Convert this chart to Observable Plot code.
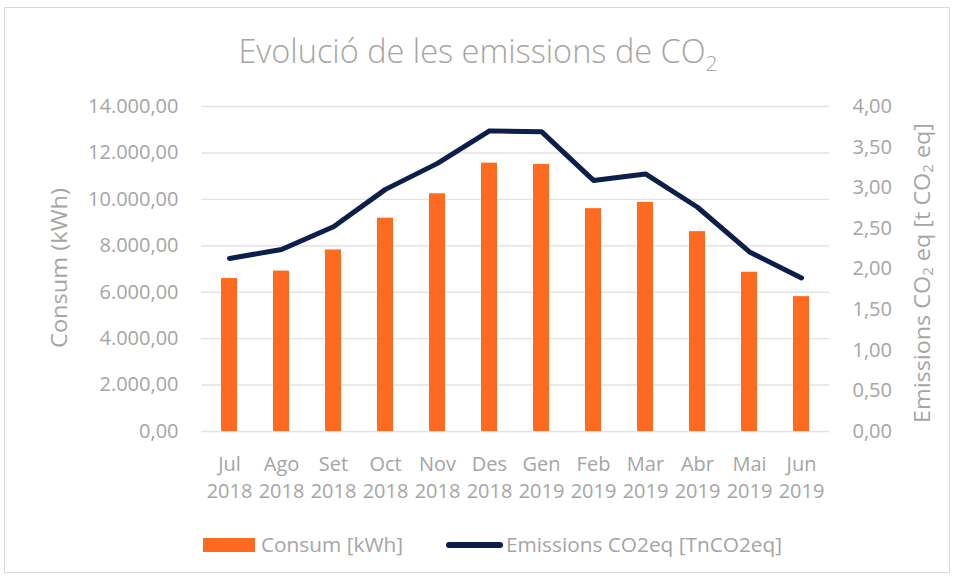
<!DOCTYPE html>
<html>
<head>
<meta charset="utf-8">
<script src="https://cdn.jsdelivr.net/npm/d3@7"></script>
<script src="https://cdn.jsdelivr.net/npm/@observablehq/plot@0.6"></script>
<style>
  html, body { margin: 0; padding: 0; background: #fff; }
  #wrap { position: relative; width: 956px; height: 579px; overflow: hidden; font-family: "Open Sans", sans-serif; color: #a5a5a5; }
  #frame { position: absolute; left: 4px; top: 7px; width: 946px; height: 566px; border: 1px solid #d9d9d9; box-sizing: border-box; }
  #title { position: absolute; left: 0; width: 956px; top: 35px; text-align: center; font-size: 32.5px; line-height: 1; font-weight: 300; color: #a5a5a5; white-space: nowrap; }
  #title sub { font-size: 21px; vertical-align: -8px; line-height: 0; }
  #chart { position: absolute; left: 0; top: 0; }
  .leg { position: absolute; font-size: 20.8px; color: #a5a5a5; white-space: nowrap; line-height: 1; }
</style>
</head>
<body>
<div id="wrap">
  <div id="frame"></div>
  <div id="chart"></div>
  <div id="title">Evolució de les emissions de CO<sub>2</sub></div>
  <div id="legend"></div>
</div>
<script>
const months = ["Jul", "Ago", "Set", "Oct", "Nov", "Des", "Gen", "Feb", "Mar", "Abr", "Mai", "Jun"];
const years = ["2018", "2018", "2018", "2018", "2018", "2018", "2019", "2019", "2019", "2019", "2019", "2019"];
const consum = [6590, 6910, 7820, 9190, 10240, 11560, 11500, 9600, 9870, 8610, 6860, 5810];
const emissions = [2.13, 2.24, 2.52, 2.98, 3.30, 3.70, 3.69, 3.09, 3.17, 2.76, 2.21, 1.89];
const leftTicks = [0, 2000, 4000, 6000, 8000, 10000, 12000, 14000];
const rightTicks = [0, 0.5, 1, 1.5, 2, 2.5, 3, 3.5, 4];
const seriesNames = ["Consum [kWh]", "Emissions CO2eq [TnCO2eq]"];

const ratio = 14000 / 4; // right axis max 4 maps to left axis max 14000
const barColor = "#FF6A21";
const lineColor = "#0B1F4A";
const textColor = "#a5a5a5";

const locale = d3.formatLocale({decimal: ",", thousands: ".", grouping: [3], currency: ["", "€"]});
const fmt = locale.format(",.2f");

const keys = months.map((m, i) => m + " " + years[i]);
const rows = keys.map((k, i) => ({key: k, consum: consum[i], emis: emissions[i]}));

const plot = Plot.plot({
  width: 956,
  height: 579,
  marginTop: 106,
  marginBottom: 148,
  marginLeft: 201,
  marginRight: 127,
  style: {fontFamily: "Open Sans, sans-serif", fontSize: "20px", color: textColor, background: "transparent", overflow: "visible"},
  x: {domain: keys, paddingInner: 0.69, paddingOuter: 0.345, label: null},
  y: {domain: [0, 14000], label: null},
  marks: [
    Plot.gridY(leftTicks, {stroke: "#e3e3e3", strokeOpacity: 1, strokeWidth: 1.4}),
    Plot.barY(rows, {x: "key", y: "consum", fill: barColor}),
    Plot.lineY(rows, {x: "key", y: d => d.emis * ratio, stroke: lineColor, strokeWidth: 5, strokeLinecap: "round", strokeLinejoin: "round"}),
    Plot.axisY({ticks: leftTicks, tickFormat: fmt, tickSize: 0, tickPadding: 23, label: null, fill: textColor}),
    Plot.axisY({anchor: "right", ticks: rightTicks.map(v => v * ratio), tickFormat: d => fmt(d / ratio), tickSize: 0, tickPadding: 23, label: null, fill: textColor}),
    Plot.axisX({tickSize: 0, tickPadding: 20, tickFormat: k => k.replace(" ", "\n"), lineHeight: 1.35, label: null, fill: textColor})
  ]
});
document.getElementById("chart").appendChild(plot);

// axis titles with subscripts
const svg = d3.select(plot);
svg.append("text")
  .attr("transform", "translate(58,268) rotate(-90)")
  .attr("text-anchor", "middle")
  .attr("dominant-baseline", "central")
  .attr("fill", textColor)
  .attr("textLength", 160)
  .attr("lengthAdjust", "spacingAndGlyphs")
  .style("font-size", "22px")
  .text("Consum (kWh)");
const rt = svg.append("text")
  .attr("transform", "translate(921,273) rotate(-90)")
  .attr("text-anchor", "middle")
  .attr("dominant-baseline", "central")
  .attr("fill", textColor)
  .attr("textLength", 300)
  .attr("lengthAdjust", "spacingAndGlyphs")
  .style("font-size", "22px");
rt.append("tspan").text("Emissions CO");
rt.append("tspan").attr("dy", 6).style("font-size", "14px").text("2");
rt.append("tspan").attr("dy", -6).text(" eq [t CO");
rt.append("tspan").attr("dy", 6).style("font-size", "14px").text("2");
rt.append("tspan").attr("dy", -6).text(" eq]");

// legend
const legend = document.getElementById("legend");
legend.innerHTML = `
  <div style="position:absolute;left:203px;top:538px;width:52px;height:14px;background:${barColor}"></div>
  <div class="leg" style="left:261px;top:534px">${seriesNames[0]}</div>
  <div style="position:absolute;left:446px;top:542px;width:57px;height:6px;border-radius:3px;background:${lineColor}"></div>
  <div class="leg" style="left:506px;top:534px">${seriesNames[1]}</div>
`;
</script>
</body>
</html>
